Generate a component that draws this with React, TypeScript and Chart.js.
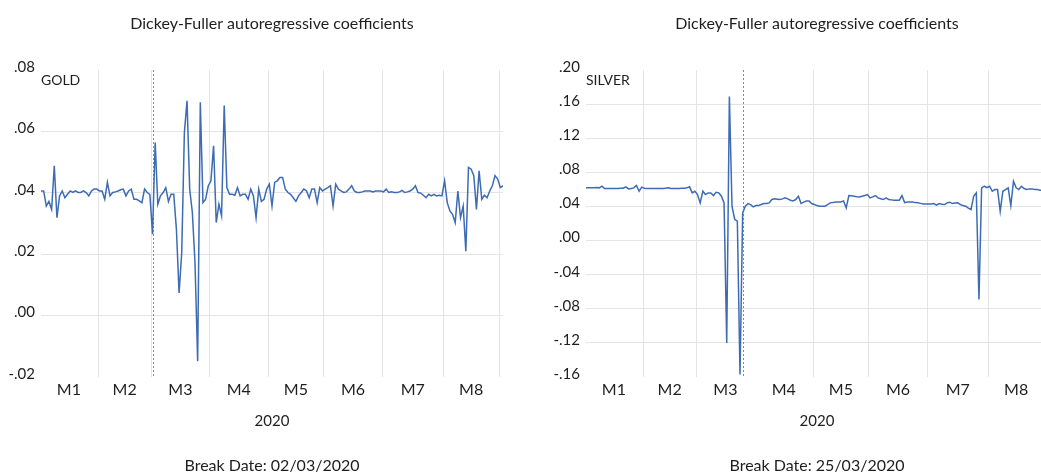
import React, { useEffect, useRef } from 'react';
import { Chart, registerables } from 'chart.js';

Chart.register(...registerables);

// ---------- data ----------
const TITLE = 'Dickey-Fuller autoregressive coefficients';
const X_TITLE = '2020';
const MONTH_LABELS = ['M1', 'M2', 'M3', 'M4', 'M5', 'M6', 'M7', 'M8'];
// index of the first trading day of each month (Jan..Sep 2020)
const MONTH_STARTS = [0, 22, 42, 64, 86, 107, 129, 152, 173];

const GOLD_NAME = 'GOLD';
const GOLD_BREAK_INDEX = 42;
const GOLD_BREAK_LABEL = 'Break Date: 02/03/2020';
const GOLD_Y_TICKS = [-0.02, 0.0, 0.02, 0.04, 0.06, 0.08];
const GOLD = [
  0.0406, 0.0406, 0.0357, 0.0372, 0.0346, 0.0488, 0.0319, 0.0390, 0.0406, 0.0384,
  0.0395, 0.0406, 0.0401, 0.0406, 0.0401, 0.0401, 0.0406, 0.0401, 0.0390, 0.0406,
  0.0412, 0.0412, 0.0406, 0.0406, 0.0379, 0.0434, 0.0390, 0.0401, 0.0403, 0.0406,
  0.0410, 0.0412, 0.0390, 0.0406, 0.0412, 0.0379, 0.0379, 0.0374, 0.0368, 0.0412,
  0.0401, 0.0395, 0.0265, 0.0564, 0.0363, 0.0390, 0.0401, 0.0417, 0.0372, 0.0395,
  0.0395, 0.0281, 0.0074, 0.0205, 0.0597, 0.0700, 0.0412, 0.0336, 0.0172, -0.0149,
  0.0695, 0.0368, 0.0379, 0.0423, 0.0439, 0.0553, 0.0303, 0.0363, 0.0325, 0.0684,
  0.0417, 0.0395, 0.0395, 0.0392, 0.0417, 0.0390, 0.0395, 0.0395, 0.0379, 0.0412,
  0.0390, 0.0319, 0.0412, 0.0372, 0.0379, 0.0412, 0.0428, 0.0357, 0.0434, 0.0439,
  0.0450, 0.0450, 0.0412, 0.0401, 0.0395, 0.0384, 0.0372, 0.0390, 0.0401, 0.0412,
  0.0406, 0.0384, 0.0412, 0.0412, 0.0368, 0.0417, 0.0406, 0.0412, 0.0417, 0.0423,
  0.0357, 0.0428, 0.0412, 0.0406, 0.0401, 0.0403, 0.0412, 0.0423, 0.0406, 0.0401,
  0.0401, 0.0403, 0.0406, 0.0406, 0.0406, 0.0403, 0.0406, 0.0406, 0.0406, 0.0403,
  0.0412, 0.0401, 0.0403, 0.0401, 0.0401, 0.0403, 0.0408, 0.0401, 0.0403, 0.0406,
  0.0412, 0.0423, 0.0401, 0.0399, 0.0392, 0.0384, 0.0395, 0.0390, 0.0395, 0.0390,
  0.0392, 0.0390, 0.0439, 0.0368, 0.0341, 0.0330, 0.0303, 0.0406, 0.0319, 0.0357,
  0.0210, 0.0483, 0.0477, 0.0456, 0.0346, 0.0472, 0.0379, 0.0392, 0.0384, 0.0406,
  0.0423, 0.0456, 0.0445, 0.0417, 0.0423,
];

const SILVER_NAME = 'SILVER';
const SILVER_BREAK_INDEX = 59;
const SILVER_BREAK_LABEL = 'Break Date: 25/03/2020';
const SILVER_Y_TICKS = [-0.16, -0.12, -0.08, -0.04, 0.0, 0.04, 0.08, 0.12, 0.16, 0.2];
const SILVER = [
  0.0618, 0.0618, 0.0618, 0.0618, 0.0622, 0.0618, 0.0637, 0.0610, 0.0610, 0.0610,
  0.0610, 0.0610, 0.0610, 0.0614, 0.0614, 0.0630, 0.0606, 0.0610, 0.0618, 0.0645,
  0.0578, 0.0626, 0.0614, 0.0610, 0.0610, 0.0610, 0.0610, 0.0610, 0.0610, 0.0610,
  0.0614, 0.0618, 0.0610, 0.0610, 0.0610, 0.0610, 0.0614, 0.0614, 0.0618, 0.0630,
  0.0559, 0.0578, 0.0539, 0.0442, 0.0578, 0.0539, 0.0559, 0.0559, 0.0528, 0.0565,
  0.0559, 0.0520, 0.0442, -0.1200, 0.1690, 0.0400, 0.0250, 0.0227, -0.1570, 0.0324,
  0.0403, 0.0434, 0.0422, 0.0395, 0.0410, 0.0410, 0.0422, 0.0434, 0.0434, 0.0442,
  0.0481, 0.0489, 0.0485, 0.0481, 0.0489, 0.0500, 0.0489, 0.0473, 0.0465, 0.0481,
  0.0520, 0.0434, 0.0450, 0.0465, 0.0465, 0.0434, 0.0422, 0.0410, 0.0403, 0.0403,
  0.0403, 0.0422, 0.0442, 0.0445, 0.0453, 0.0453, 0.0453, 0.0465, 0.0383, 0.0528,
  0.0525, 0.0520, 0.0515, 0.0512, 0.0520, 0.0528, 0.0539, 0.0500, 0.0512, 0.0528,
  0.0500, 0.0490, 0.0481, 0.0500, 0.0481, 0.0477, 0.0473, 0.0473, 0.0473, 0.0528,
  0.0445, 0.0453, 0.0453, 0.0453, 0.0445, 0.0442, 0.0436, 0.0430, 0.0430, 0.0430,
  0.0430, 0.0434, 0.0415, 0.0434, 0.0426, 0.0422, 0.0442, 0.0450, 0.0434, 0.0440,
  0.0442, 0.0422, 0.0410, 0.0403, 0.0380, 0.0364, 0.0520, 0.0559, -0.0692, 0.0618,
  0.0637, 0.0620, 0.0637, 0.0578, 0.0598, 0.0598, 0.0344, 0.0578, 0.0598, 0.0618,
  0.0410, 0.0696, 0.0618, 0.0598, 0.0637, 0.0610, 0.0598, 0.0606, 0.0606, 0.0598,
  0.0598, 0.0590, 0.0590, 0.0595, 0.0598,
];

// ---------- styling ----------
const FONT = 'Lato, "Open Sans", sans-serif';
const LINE_COLOR = '#3d6cb5';
const GRID_COLOR = '#e4e4e4';
const TEXT_COLOR = '#1e1e1e';

const BOUNDARIES = MONTH_STARTS.slice(1).map((s) => s - 0.5);
const CENTERS = MONTH_LABELS.map((_, i) => (MONTH_STARTS[i] + MONTH_STARTS[i + 1] - 1) / 2);

function fmt(v: number): string {
  const s = Math.abs(v) < 1e-9 ? '0.00' : v.toFixed(2);
  return s.replace('-0.', '-.').replace(/^0\./, '.');
}

interface PanelProps {
  name: string;
  values: number[];
  yTicks: number[];
  breakIndex: number;
  breakLabel: string;
  hiddenBoundaries: number[];
  axisWidth: number;
  padRight: number;
  width: number;
  left: number;
}

function Panel(p: PanelProps) {
  const ref = useRef<HTMLCanvasElement | null>(null);
  useEffect(() => {
    if (!ref.current) return;
    const yMin = p.yTicks[0];
    const yMax = p.yTicks[p.yTicks.length - 1];
    const isCenter = (v: number) => CENTERS.some((c) => Math.abs(c - v) < 1e-6);
    const overlay = {
      id: 'overlay-' + p.name,
      beforeDatasetsDraw(chart: any) {
        const { ctx, chartArea, scales } = chart;
        const x = scales.x.getPixelForValue(p.breakIndex);
        ctx.save();
        ctx.strokeStyle = '#8a8a8a';
        ctx.lineWidth = 1;
        ctx.setLineDash([2, 2]);
        ctx.beginPath();
        ctx.moveTo(Math.round(x) + 0.5, chartArea.top);
        ctx.lineTo(Math.round(x) + 0.5, chartArea.bottom);
        ctx.stroke();
        ctx.restore();
      },
      afterDraw(chart: any) {
        const { ctx, chartArea } = chart;
        ctx.save();
        ctx.font = '14px ' + FONT;
        ctx.fillStyle = TEXT_COLOR;
        ctx.textBaseline = 'middle';
        ctx.textAlign = 'left';
        ctx.fillText(p.name, chartArea.left, chartArea.top + 10);
        ctx.restore();
      },
    };
    const chart = new Chart(ref.current, {
      type: 'line',
      data: {
        datasets: [
          {
            label: p.name,
            data: p.values.map((y, i) => ({ x: i, y })),
            borderColor: LINE_COLOR,
            borderWidth: 1.5,
            pointRadius: 0,
            tension: 0,
            fill: false,
          },
        ],
      },
      options: {
        animation: false,
        responsive: false,
        maintainAspectRatio: false,
        layout: { padding: { left: 0, right: p.padRight, top: 0, bottom: 0 } },
        plugins: {
          legend: { display: false },
          tooltip: { enabled: false },
          title: {
            display: true,
            fullSize: false,
            text: TITLE,
            color: TEXT_COLOR,
            font: { family: FONT, size: 16, weight: 'normal', lineHeight: 1.2 },
            padding: { top: 14, bottom: 36.8 },
          },
          subtitle: {
            display: true,
            fullSize: false,
            position: 'bottom',
            text: p.breakLabel,
            color: TEXT_COLOR,
            font: { family: FONT, size: 16, weight: 'normal', lineHeight: 1 },
            padding: { top: 19, bottom: 0 },
          },
        },
        scales: {
          x: {
            type: 'linear',
            min: 0,
            max: p.values.length - 1,
            afterBuildTicks: (scale: any) => {
              const all = [...BOUNDARIES, ...CENTERS].sort((a, b) => a - b);
              scale.ticks = all.map((v) => ({ value: v }));
            },
            afterFit: (scale: any) => {
              scale.height = 62;
            },
            border: { display: false },
            grid: {
              drawTicks: false,
              lineWidth: 1,
              color: (ctx: any) => {
                const v = ctx.tick ? ctx.tick.value : NaN;
                if (isCenter(v)) return 'rgba(0,0,0,0)';
                if (p.hiddenBoundaries.some((b) => Math.abs(b - 0.5 - v) < 1e-6)) return 'rgba(0,0,0,0)';
                return GRID_COLOR;
              },
            },
            ticks: {
              autoSkip: false,
              maxRotation: 0,
              minRotation: 0,
              padding: 3,
              color: TEXT_COLOR,
              font: { family: FONT, size: 16 },
              callback: (value: any) => {
                const idx = CENTERS.findIndex((c) => Math.abs(c - Number(value)) < 1e-6);
                return idx >= 0 ? MONTH_LABELS[idx] : '';
              },
            },
            title: {
              display: true,
              text: X_TITLE,
              color: TEXT_COLOR,
              font: { family: FONT, size: 15, lineHeight: 1.2 },
              padding: { top: 0, bottom: 8.5 },
            },
          },
          y: {
            type: 'linear',
            min: yMin,
            max: yMax,
            afterBuildTicks: (scale: any) => {
              scale.ticks = p.yTicks.map((v) => ({ value: v }));
            },
            afterFit: (scale: any) => {
              scale.width = p.axisWidth;
            },
            border: { display: false },
            grid: {
              drawTicks: false,
              lineWidth: 1,
              color: (ctx: any) => {
                const v = ctx.tick ? ctx.tick.value : NaN;
                if (Math.abs(v - yMin) < 1e-9 || Math.abs(v - yMax) < 1e-9) return 'rgba(0,0,0,0)';
                return GRID_COLOR;
              },
            },
            ticks: {
              padding: 6,
              labelOffset: -3,
              color: TEXT_COLOR,
              font: { family: FONT, size: 15 },
              callback: (value: any) => fmt(Number(value)),
            },
          },
        },
      },
      plugins: [overlay],
    } as any);
    return () => chart.destroy();
  }, []);
  return (
    <canvas
      ref={ref}
      width={p.width}
      height={474}
      style={{ position: 'absolute', left: p.left, top: 0, width: p.width, height: 474 }}
    />
  );
}

export default function App() {
  return (
    <div
      style={{
        position: 'absolute',
        left: 0,
        top: 0,
        width: 1041,
        height: 474,
        overflow: 'hidden',
        background: '#ffffff',
      }}
    >
      <Panel
        name={GOLD_NAME}
        values={GOLD}
        yTicks={GOLD_Y_TICKS}
        breakIndex={GOLD_BREAK_INDEX}
        breakLabel={GOLD_BREAK_LABEL}
        hiddenBoundaries={[]}
        axisWidth={41}
        padRight={17}
        width={520}
        left={0}
      />
      <Panel
        name={SILVER_NAME}
        values={SILVER}
        yTicks={SILVER_Y_TICKS}
        breakIndex={SILVER_BREAK_INDEX}
        breakLabel={SILVER_BREAK_LABEL}
        hiddenBoundaries={[64]}
        axisWidth={56}
        padRight={12}
        width={530}
        left={530}
      />
    </div>
  );
}
